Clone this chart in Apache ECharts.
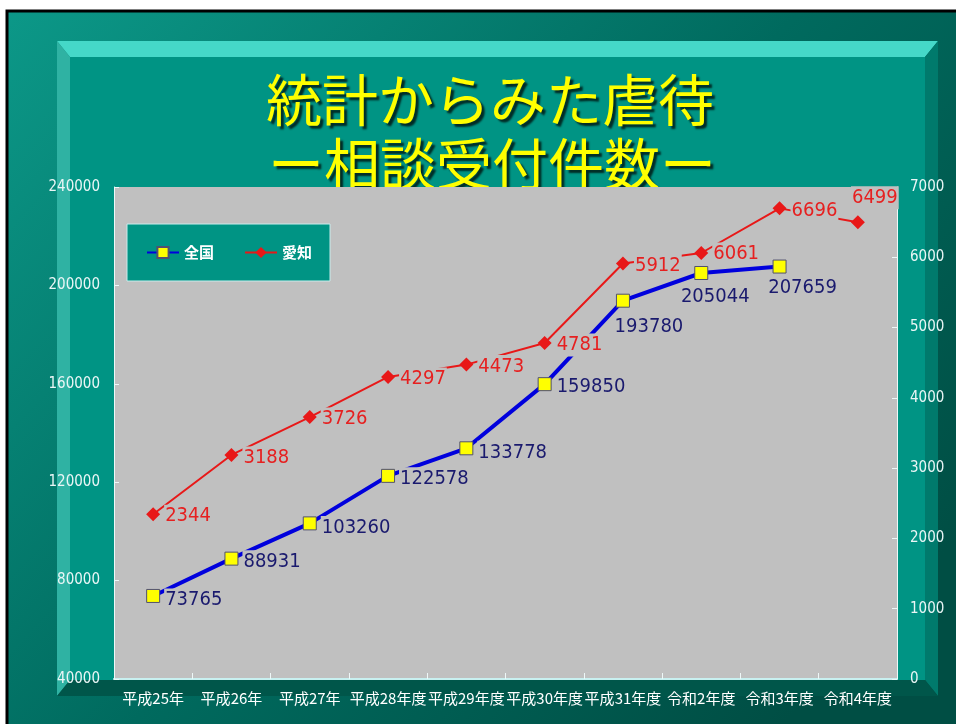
<!DOCTYPE html>
<html>
<head>
<meta charset="utf-8">
<script src="https://cdn.jsdelivr.net/npm/echarts@6/dist/echarts.min.js"></script>
<style>
html,body{margin:0;padding:0;background:#fff;}
#chart{width:956px;height:724px;}
</style>
</head>
<body>
<div id="chart"></div>
<script>
// ---- data ----
const categories = ['平成25年','平成26年','平成27年','平成28年度','平成29年度','平成30年度','平成31年度','令和2年度','令和3年度','令和4年度'];
const nationwide = [73765, 88931, 103260, 122578, 133778, 159850, 193780, 205044, 207659, null];
const aichi = [2344, 3188, 3726, 4297, 4473, 4781, 5912, 6061, 6696, 6499];
const leftTicks = {min: 40000, max: 240000, interval: 40000};
const rightTicks = {min: 0, max: 7000, interval: 1000};
const titleLines = ['統計からみた虐待', 'ー相談受付件数ー'];

// ---- label placement (style only) ----
const nationwideLabelPos = ['right','right','right','right','right','right','bottom','bottom','bottom','right'];
const nationwideLabelOff = [[0,4],[0,3],[0,4],[0,3],[0,4],[0,3],[26,3],[14,1],[23,-2],[0,0]];
const aichiLabelPos = ['right','right','right','right','right','right','right','right','right','top'];
const aichiLabelOff = [[0,2],[0,3],[0,2],[0,2],[0,2],[0,2],[0,2],[0,1],[0,2],[17,-2]];

const NARROW = "'DejaVu Sans Condensed','Liberation Sans Narrow','Noto Sans CJK JP',sans-serif";
const CJK = "'Noto Sans CJK JP',sans-serif";

function buildItems(values, pos, off) {
  return values.map((v, i) => ({
    value: v,
    label: {position: pos[i], offset: off[i]}
  }));
}

const chart = echarts.init(document.getElementById('chart'), null, {renderer: 'canvas'});

const shadow = {textShadowColor:'#002a24', textShadowOffsetX:3, textShadowOffsetY:3, textShadowBlur:2,
    shadowColor:'#002a24', shadowOffsetX:3, shadowOffsetY:3, shadowBlur:2};

const frame = [
  {type:'rect', z:0, shape:{x:0,y:0,width:956,height:724}, style:{fill:'#ffffff'}},
  {type:'rect', z:0, shape:{x:7,y:11,width:960,height:720},
    style:{fill:new echarts.graphic.LinearGradient(0,0,0.8,1,[{offset:0,color:'#0c9888'},{offset:0.55,color:'#006a5e'},{offset:1,color:'#004e44'}]), stroke:'#000', lineWidth:3}},
  {type:'polygon', z:0, shape:{points:[[57,41],[938,41],[925,57],[70,57]]}, style:{fill:'#45d8c8'}},
  {type:'polygon', z:0, shape:{points:[[57,41],[70,57],[70,680],[57,696]]}, style:{fill:'#2fb2a3'}},
  {type:'polygon', z:0, shape:{points:[[938,41],[938,696],[925,680],[925,57]]}, style:{fill:'#007a6c'}},
  {type:'polygon', z:0, shape:{points:[[57,696],[70,680],[925,680],[938,696]]}, style:{fill:'#00564a'}},
  {type:'rect', z:0, shape:{x:70,y:57,width:855,height:623}, style:{fill:'#009484'}},
  {type:'text', z:1, x:490, y:100, style:Object.assign({text:titleLines[0], fill:'#ffff00', font:"56px 'Noto Sans CJK JP'", align:'center', verticalAlign:'middle'}, shadow)},
  {type:'text', z:1, x:492, y:164, style:Object.assign({text:titleLines[1], fill:'#ffff00', font:"56px 'Noto Sans CJK JP'", align:'center', verticalAlign:'middle'}, shadow)}
];

const labelCommon = {
  show: true,
  fontFamily: NARROW,
  fontSize: 20,
  backgroundColor: '#c0c0c0',
  padding: [2, 1, 1, 1],
  distance: 4
};

const plain = v => String(v);

const option = {
  animation: false,
  backgroundColor: '#ffffff',
  graphic: {elements: frame},
  grid: {left:114, top:187, right:59, bottom:45, show:true, backgroundColor:'#c0c0c0', borderWidth:0, z:3},
  legend: {
    left:127, top:224, z:8,
    padding:[21,18,21,19],
    itemGap:30, itemWidth:32, itemHeight:14,
    backgroundColor:'#009484', borderColor:'#c8ecec', borderWidth:1,
    textStyle:{color:'#ffffff', fontSize:15, fontWeight:'bold', fontFamily:CJK},
    data:['全国','愛知']
  },
  xAxis: {
    type:'category', data:categories, boundaryGap:true, z:6,
    axisLine:{show:true, lineStyle:{color:'#c8f0f0', width:2}},
    axisTick:{show:true, inside:true, length:6, lineStyle:{color:'#eef8f8'}},
    axisLabel:{color:'#ffffff', fontSize:15, fontFamily:CJK, margin:12, interval:0},
    splitLine:{show:false}
  },
  yAxis: [
    {type:'value', position:'left', min:leftTicks.min, max:leftTicks.max, interval:leftTicks.interval, z:6,
      axisLine:{show:true, lineStyle:{color:'#eef8f8', width:1}},
      axisTick:{show:true, inside:true, length:5, lineStyle:{color:'#eef8f8'}},
      axisLabel:{color:'#eaf6f6', fontSize:15, fontFamily:NARROW, margin:14, formatter:plain},
      splitLine:{show:false}},
    {type:'value', position:'right', min:rightTicks.min, max:rightTicks.max, interval:rightTicks.interval, z:6,
      axisLine:{show:true, lineStyle:{color:'#eef8f8', width:1}},
      axisTick:{show:true, inside:true, length:5, lineStyle:{color:'#eef8f8'}},
      axisLabel:{color:'#eaf6f6', fontSize:15, fontFamily:NARROW, margin:13, formatter:plain},
      splitLine:{show:false}}
  ],
  series: [
    {
      name:'全国', type:'line', yAxisIndex:0, z:10,
      data: buildItems(nationwide, nationwideLabelPos, nationwideLabelOff),
      symbol:'rect', symbolSize:13,
      itemStyle:{color:'#ffff00', borderColor:'#505070', borderWidth:1},
      lineStyle:{color:'#0000dd', width:4},
      label: Object.assign({}, labelCommon, {color:'#1a1a6e', formatter: p => String(p.value)})
    },
    {
      name:'愛知', type:'line', yAxisIndex:1, z:10,
      data: buildItems(aichi, aichiLabelPos, aichiLabelOff),
      symbol:'diamond', symbolSize:14,
      itemStyle:{color:'#e81818'},
      lineStyle:{color:'#e81818', width:2},
      label: Object.assign({}, labelCommon, {color:'#e62020', formatter: p => String(p.value)})
    }
  ]
};
chart.setOption(option);
</script>
</body>
</html>
